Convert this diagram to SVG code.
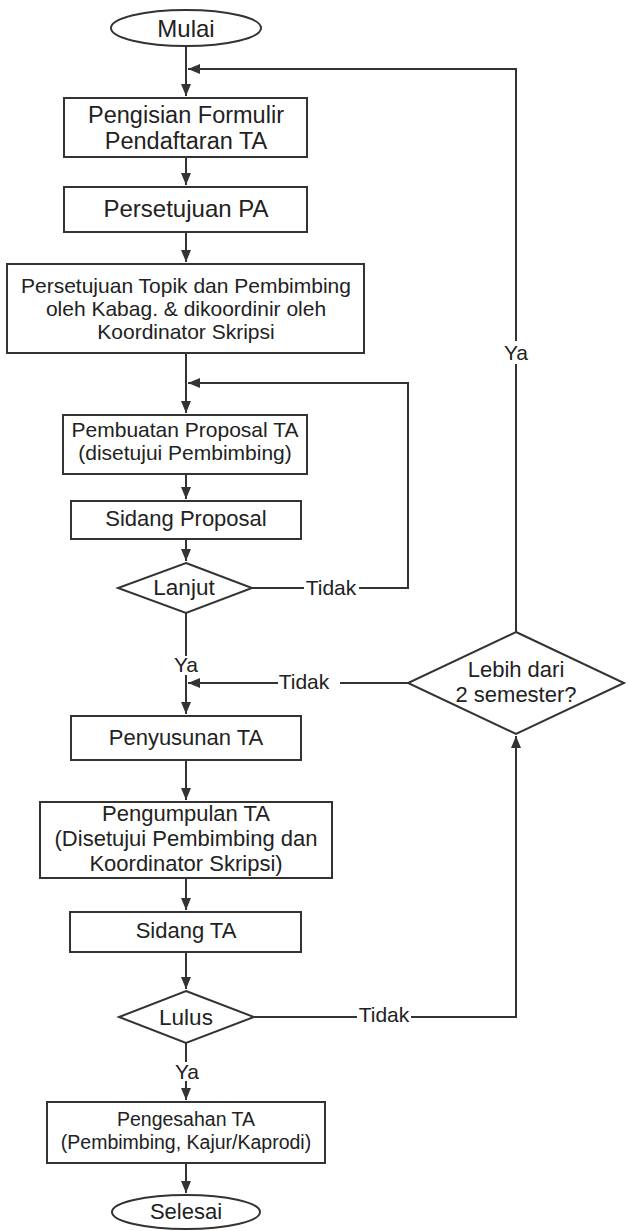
<svg xmlns="http://www.w3.org/2000/svg" width="628" height="1231" viewBox="0 0 628 1231">
<defs>
<style>
.n{fill:#fff;stroke:#333;stroke-width:2}
.t{font-family:"Liberation Sans",Arial,sans-serif;fill:#222;text-anchor:middle}
.c{fill:none;stroke:#333;stroke-width:2}
</style>
<marker id="ah" markerWidth="12" markerHeight="10" refX="12" refY="5" orient="auto" markerUnits="userSpaceOnUse"><path d="M0,0 L12,5 L0,10 z" fill="#333"/></marker>
</defs>
<rect width="628" height="1231" fill="#fff"/>
<g id="connectors">
<path class="c" d="M186,46 V96" marker-end="url(#ah)"/>
<path class="c" d="M516,632 V364"/>
<path class="c" d="M516,341 V69 H188" marker-end="url(#ah)"/>
<path class="c" d="M186,157 V185" marker-end="url(#ah)"/>
<path class="c" d="M186,232 V262" marker-end="url(#ah)"/>
<path class="c" d="M186,353 V413" marker-end="url(#ah)"/>
<path class="c" d="M252,588 H304"/>
<path class="c" d="M359,588 H408 V383 H188" marker-end="url(#ah)"/>
<path class="c" d="M186,474 V499" marker-end="url(#ah)"/>
<path class="c" d="M186,539 V561" marker-end="url(#ah)"/>
<path class="c" d="M186,613 V656"/>
<path class="c" d="M186,675 V714" marker-end="url(#ah)"/>
<path class="c" d="M408,683 H340"/>
<path class="c" d="M278,683 H188" marker-end="url(#ah)"/>
<path class="c" d="M186,760 V800" marker-end="url(#ah)"/>
<path class="c" d="M186,878 V910" marker-end="url(#ah)"/>
<path class="c" d="M186,952 V989" marker-end="url(#ah)"/>
<path class="c" d="M254,1017 H357"/>
<path class="c" d="M411,1017 H516 V736" marker-end="url(#ah)"/>
<path class="c" d="M186,1043 V1062"/>
<path class="c" d="M186,1081 V1100" marker-end="url(#ah)"/>
<path class="c" d="M186,1163 V1193" marker-end="url(#ah)"/>
<text class="t" x="516" y="360" font-size="21">Ya</text>
<text class="t" x="331" y="595" font-size="21">Tidak</text>
<text class="t" x="186" y="672" font-size="21">Ya</text>
<text class="t" x="304" y="689" font-size="21">Tidak</text>
<text class="t" x="384" y="1022" font-size="21">Tidak</text>
<text class="t" x="187" y="1079" font-size="21">Ya</text>
</g>
<g id="mulai"><ellipse class="n" cx="186" cy="28" rx="75" ry="18"/><text class="t" x="186" y="37" font-size="24">Mulai</text></g>
<g id="pengisian"><rect class="n" x="64" y="98" width="243" height="59"/><text class="t" x="186" y="123" font-size="23.5">Pengisian Formulir</text><text class="t" x="186" y="149" font-size="23.5">Pendaftaran TA</text></g>
<g id="persetujuan-pa"><rect class="n" x="64" y="187" width="243" height="45"/><text class="t" x="186" y="217" font-size="24">Persetujuan PA</text></g>
<g id="persetujuan-topik"><rect class="n" x="7" y="264" width="357" height="89"/><text class="t" x="186" y="293" font-size="21">Persetujuan Topik dan Pembimbing</text><text class="t" x="186" y="316" font-size="21">oleh Kabag. &amp; dikoordinir oleh</text><text class="t" x="186" y="339" font-size="21">Koordinator Skripsi</text></g>
<g id="pembuatan-proposal"><rect class="n" x="63" y="415" width="244" height="59"/><text class="t" x="185" y="437" font-size="21">Pembuatan Proposal TA</text><text class="t" x="185" y="460" font-size="21">(disetujui Pembimbing)</text></g>
<g id="sidang-proposal"><rect class="n" x="71" y="501" width="230" height="38"/><text class="t" x="186" y="526" font-size="22">Sidang Proposal</text></g>
<g id="lanjut"><polygon class="n" points="186,563 252,588 186,613 118,588"/><text class="t" x="184" y="595" font-size="22.5">Lanjut</text></g>
<g id="lebih-dari"><polygon class="n" points="516,632 624,683 516,734 408,683"/><text class="t" x="516" y="677" font-size="22">Lebih dari</text><text class="t" x="516" y="702" font-size="22">2 semester?</text></g>
<g id="penyusunan"><rect class="n" x="71" y="716" width="230" height="44"/><text class="t" x="186" y="745" font-size="22">Penyusunan TA</text></g>
<g id="pengumpulan"><rect class="n" x="40" y="802" width="292" height="76"/><text class="t" x="186" y="821" font-size="22">Pengumpulan TA</text><text class="t" x="186" y="846" font-size="22">(Disetujui Pembimbing dan</text><text class="t" x="186" y="871" font-size="22">Koordinator Skripsi)</text></g>
<g id="sidang-ta"><rect class="n" x="70" y="912" width="231" height="40"/><text class="t" x="186" y="938" font-size="22">Sidang TA</text></g>
<g id="lulus"><polygon class="n" points="186,991 254,1017 186,1043 119,1017"/><text class="t" x="186" y="1025" font-size="22.5">Lulus</text></g>
<g id="pengesahan"><rect class="n" x="47" y="1102" width="278" height="61"/><text class="t" x="186" y="1126" font-size="19.5">Pengesahan TA</text><text class="t" x="186" y="1149" font-size="19.5">(Pembimbing, Kajur/Kaprodi)</text></g>
<g id="selesai"><ellipse class="n" cx="186" cy="1212" rx="74" ry="17"/><text class="t" x="186" y="1219" font-size="22">Selesai</text></g>
</svg>
